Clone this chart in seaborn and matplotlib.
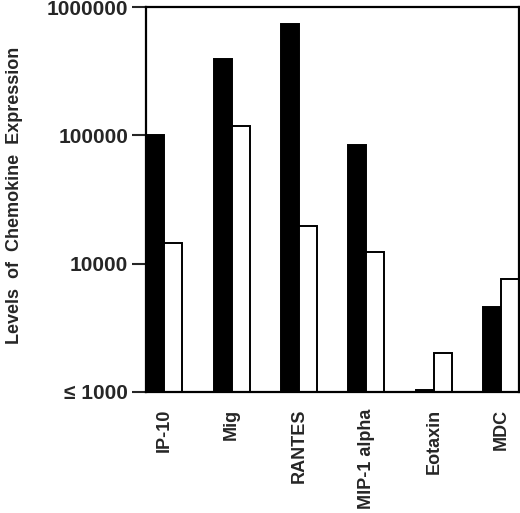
import pandas as pd
import seaborn as sns
import matplotlib.pyplot as plt
from matplotlib.ticker import FixedLocator, NullLocator

chemokines = ["IP-10", "Mig", "RANTES", "MIP-1 alpha", "Eotaxin", "MDC"]
filled = [100000, 392000, 738000, 84000, 1040, 4600]
open_ = [14500, 118000, 19700, 12300, 2010, 7600]
ytick_vals = [1000, 10000, 100000, 1000000]
ytick_labels = ["\u2264 1000", "10000", "100000", "1000000"]

df = pd.DataFrame({
    "Chemokine": chemokines * 2,
    "Level": filled + open_,
    "Group": ["filled"] * len(chemokines) + ["open"] * len(chemokines),
})

sns.set_style("ticks")
plt.rcParams["font.family"] = ["Liberation Sans", "DejaVu Sans"]
plt.rcParams["font.weight"] = "bold"

fig = plt.figure(figsize=(5.2, 5.13), dpi=100)
ax = fig.add_axes([0.281, 0.236, 0.717, 0.750])

sns.barplot(data=df, x="Chemokine", y="Level", hue="Group",
            palette={"filled": "black", "open": "white"},
            width=0.535, gap=0, edgecolor="black", linewidth=1.4,
            legend=False, ax=ax)

ax.set_yscale("log")
ax.set_ylim(1000, 1000000)
ax.set_xlim(-0.267, 5.262)
ax.yaxis.set_major_locator(FixedLocator(ytick_vals))
ax.yaxis.set_minor_locator(NullLocator())
ax.set_yticklabels(ytick_labels, fontsize=15, fontweight="bold")
ax.tick_params(axis="y", length=10, width=1.5, direction="out", pad=3)
ax.tick_params(axis="x", length=0, pad=12)
plt.setp(ax.get_xticklabels(), rotation=90, fontsize=13, fontweight="bold",
         va="top", ha="center")

ax.set_xlabel("")
ax.set_ylabel("Levels  of  Chemokine  Expression", fontsize=13,
              fontweight="bold")
ax.yaxis.set_label_coords(-0.33, 0.51)

for s in ax.spines.values():
    s.set_visible(True)
    s.set_linewidth(1.6)
    s.set_color("black")

fig.savefig("out.png", dpi=100)
